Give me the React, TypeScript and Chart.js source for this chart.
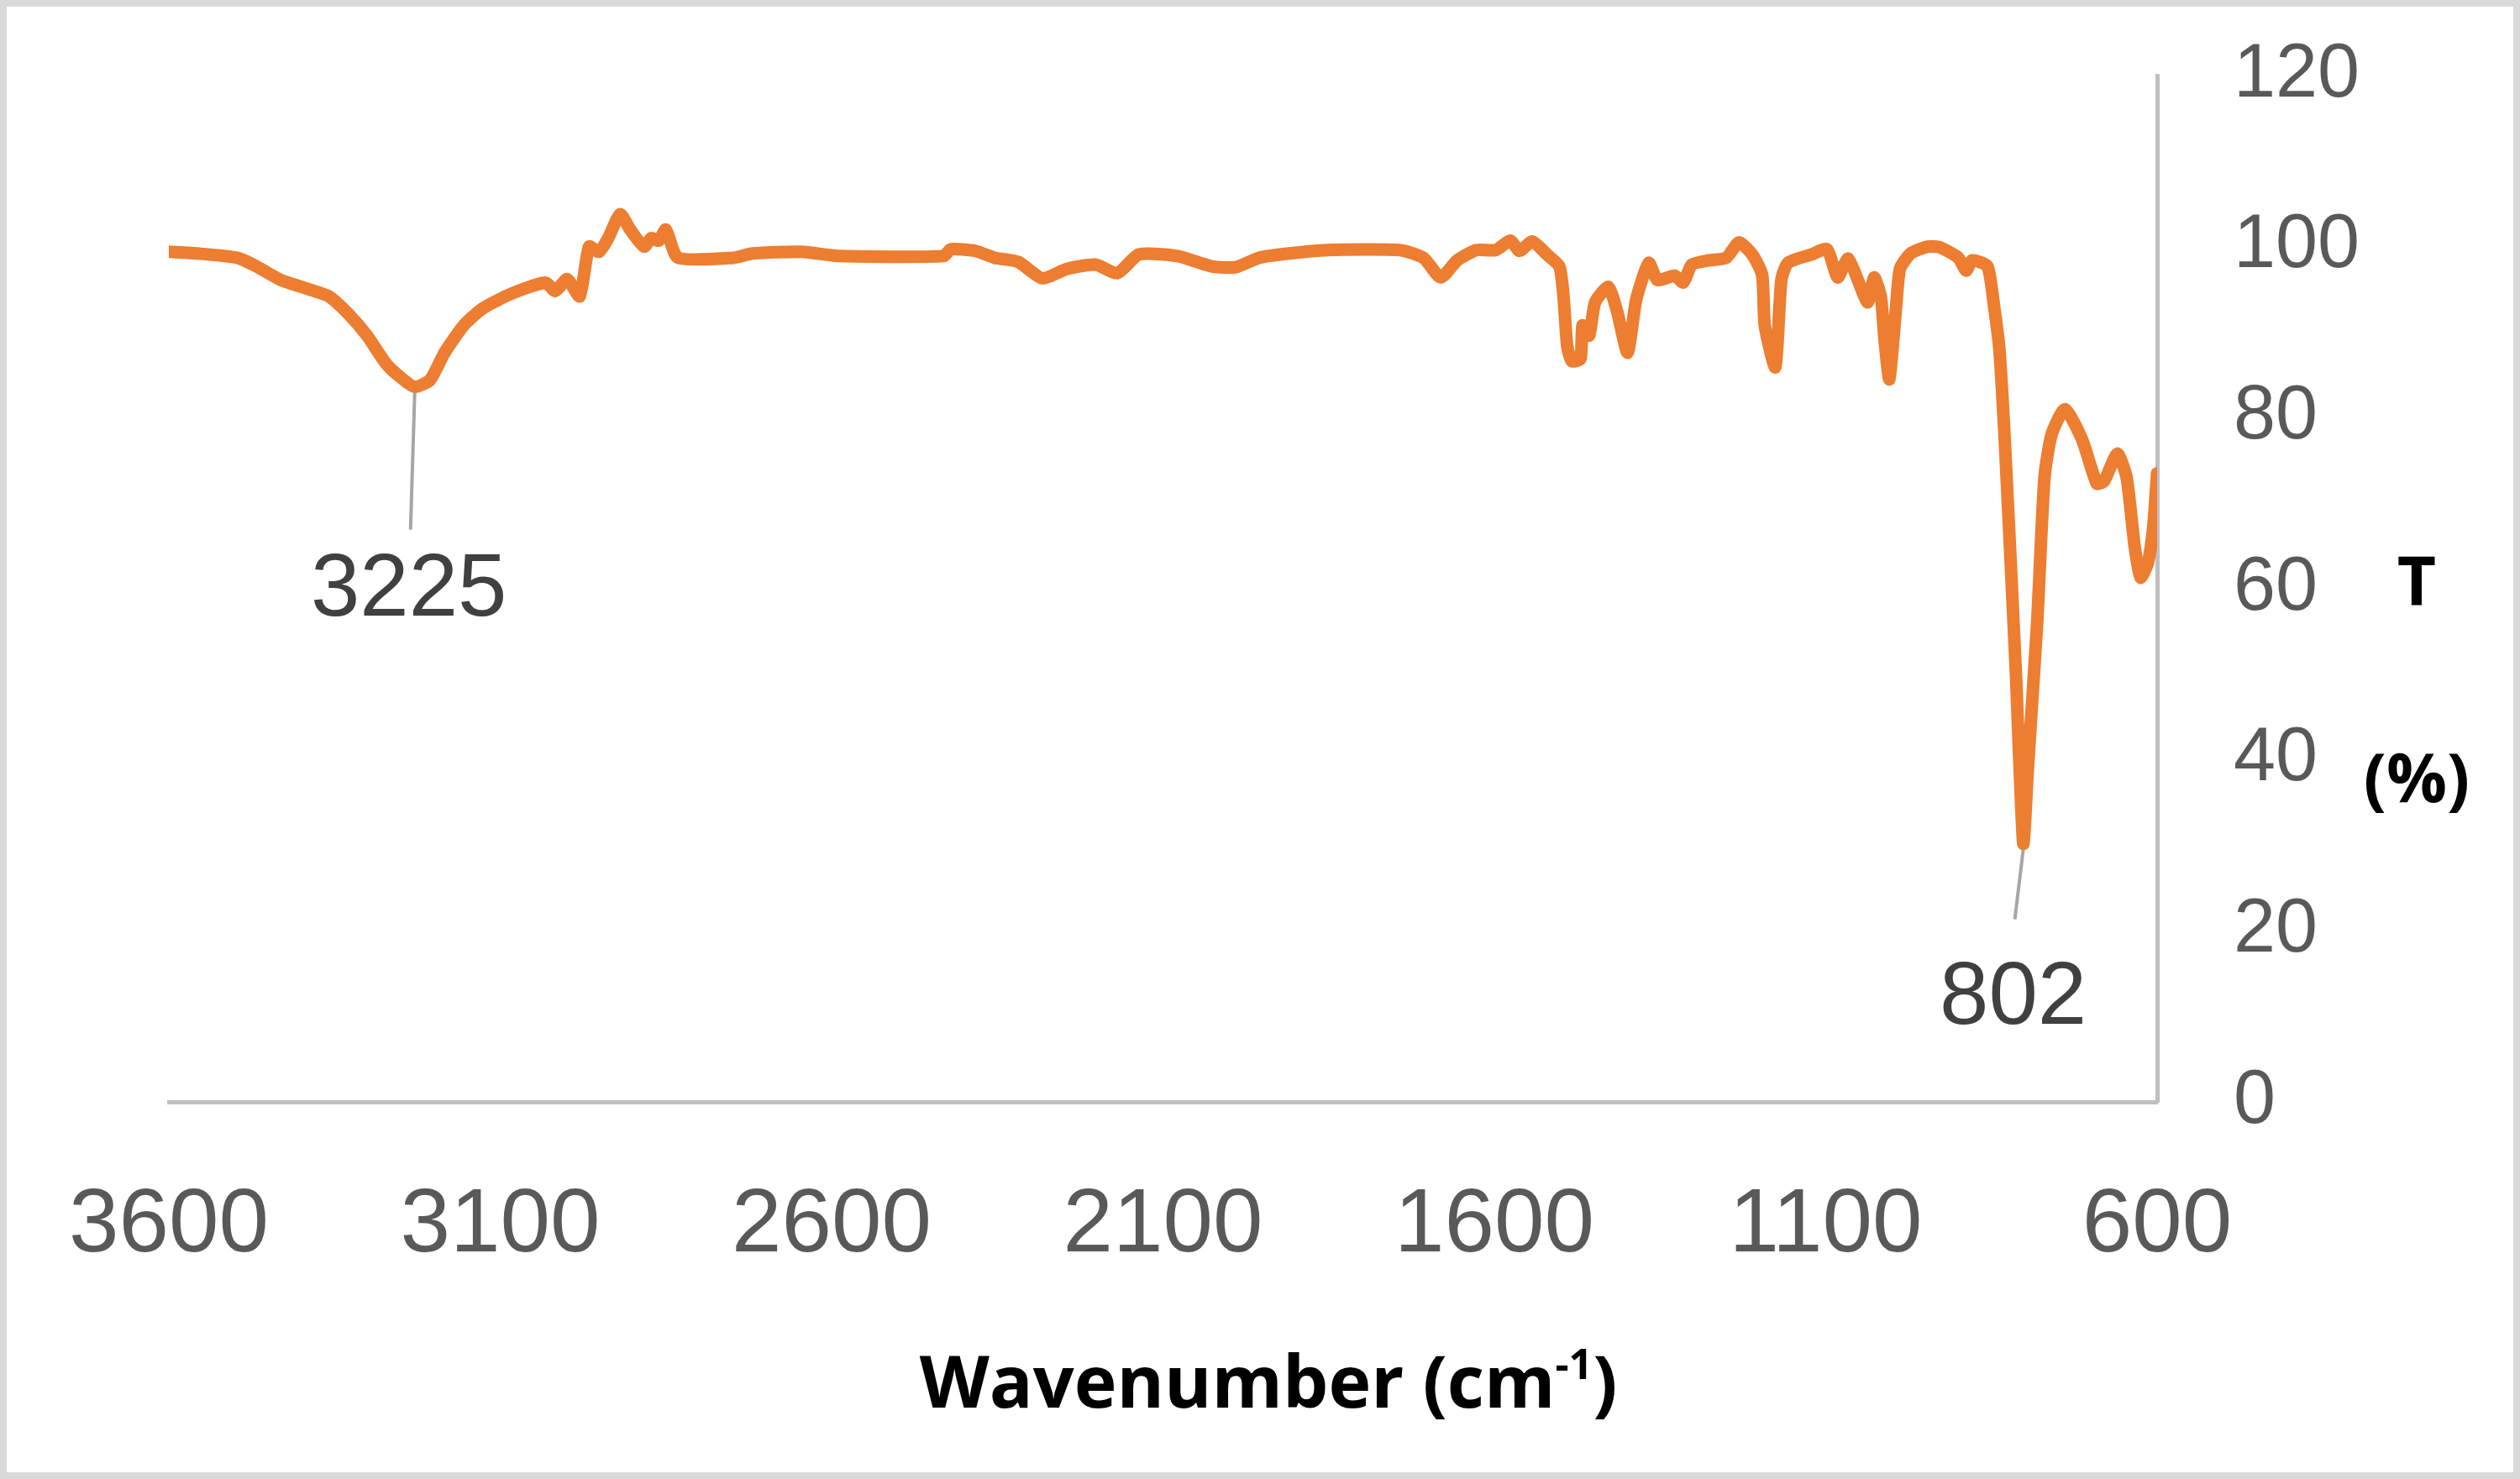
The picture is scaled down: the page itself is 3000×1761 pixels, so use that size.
import React, { useEffect, useRef } from "react";
import Chart from "chart.js/auto";

// FTIR spectrum, wavenumber (cm-1) vs transmittance (%)
const wavenumbers = [
  3600, 3556, 3497, 3468, 3431, 3388, 3359, 3330, 3301, 3272, 3250, 3229, 3206, 3184, 3155, 3126,
  3083, 3032, 3017, 2999, 2980, 2966, 2951, 2937, 2919, 2904, 2883, 2872, 2861, 2850, 2832, 2748,
  2719, 2646, 2587, 2431, 2420, 2383, 2354, 2318, 2282, 2245, 2202, 2169, 2136, 2078, 2027, 1990,
  1955, 1910, 1852, 1743, 1707, 1681, 1656, 1627, 1598, 1576, 1562, 1543, 1521, 1502, 1496, 1490,
  1483, 1470, 1467, 1457, 1448, 1428, 1415, 1399, 1386, 1367, 1354, 1328, 1315, 1302, 1276, 1250,
  1231, 1211, 1196, 1192, 1176, 1167, 1157, 1121, 1098, 1082, 1066, 1037, 1027, 1017, 1011, 1004,
  994, 988, 972, 946, 927, 900, 888, 879, 856, 846, 838, 829, 813, 802, 795, 781, 770, 759, 739,
  713, 691, 680, 660, 646, 634, 625, 614, 606, 600,
];
const transmittance = [
  99.4, 99.2, 98.7, 97.7, 96.1, 95.0, 94.2, 92.2, 89.6, 86.3, 84.7, 83.6, 84.4, 87.6, 90.8, 92.8,
  94.5, 95.8, 94.8, 96.2, 94.2, 100, 99.4, 101, 103.8, 102, 100, 101, 100.7, 102, 98.7, 98.7,
  99.2, 99.4, 98.9, 98.9, 99.7, 99.5, 98.7, 98.2, 96.3, 97.4, 97.9, 96.9, 99.1, 98.9, 97.7, 97.6,
  98.7, 99.2, 99.6, 99.6, 98.7, 96.4, 98.4, 99.6, 99.6, 100.7, 99.5, 100.6, 99.1, 97.7, 94.5, 88.3,
  86.6, 86.9, 90.8, 89.6, 93.5, 95.3, 92.5, 87.6, 93.8, 98.1, 96.1, 96.6, 95.8, 97.9, 98.4, 98.7,
  100.5, 99.1, 96.7, 90.8, 85.9, 96.1, 98.1, 99.1, 99.7, 96.4, 98.6, 93.5, 96.4, 94.2, 88.9, 84.5,
  92.8, 97.4, 99.2, 100, 99.9, 98.7, 97.2, 98.4, 97.7, 93, 88, 76, 50, 30.2, 39, 56, 73, 78.1, 81,
  77.4, 72.3, 72.6, 75.8, 73, 65, 61.3, 63, 67.1, 73.5,
];
const xTicks = [600, 1100, 1600, 2100, 2600, 3100, 3600];
const yTicks = [0, 20, 40, 60, 80, 100, 120];
const peakWavenumbers = [3229, 802];
const peakLabels = ["3225", "802"];

// leader line / label placement relative to the peak point
const peakLayout = [
  { lineLen: 170, lineDx: -5, textDy: 243, textDx: -7 },
  { lineLen: 90, lineDx: -10, textDy: 186, textDx: -12 },
];

const overlayPlugin = {
  id: "overlay",
  afterDraw(chart: any) {
    const ctx = chart.ctx;
    const meta = chart.getDatasetMeta(0);
    ctx.save();

    // peak annotations
    peakWavenumbers.forEach((wn, k) => {
      const idx = wavenumbers.indexOf(wn);
      const pt = meta.data[idx];
      const lay = peakLayout[k];
      ctx.strokeStyle = "#a6a6a6";
      ctx.lineWidth = 4;
      ctx.beginPath();
      ctx.moveTo(pt.x, pt.y + 7);
      ctx.lineTo(pt.x + lay.lineDx, pt.y + lay.lineLen);
      ctx.stroke();
      ctx.fillStyle = "#404040";
      ctx.font = "105px 'Liberation Sans'";
      ctx.textAlign = "center";
      ctx.textBaseline = "middle";
      ctx.fillText(peakLabels[k], pt.x + lay.textDx, pt.y + lay.textDy);
    });

    // right axis title "T (%)"
    ctx.fillStyle = "#000000";
    ctx.font = "bold 80px 'Open Sans'";
    ctx.textAlign = "center";
    ctx.textBaseline = "middle";
    ctx.fillText("T", 2877, 698);
    ctx.fillText("(%)", 2877, 932);

    // x axis title with superscript
    const main = "Wavenumber (cm";
    const sup = "-1";
    const close = ")";
    ctx.textBaseline = "alphabetic";
    ctx.textAlign = "left";
    ctx.font = "bold 86px 'Open Sans'";
    const wMain = ctx.measureText(main).width;
    const wClose = ctx.measureText(close).width;
    ctx.font = "bold 50px 'Open Sans'";
    const wSup = ctx.measureText(sup).width;
    let x0 = 1510 - (wMain + wSup + wClose) / 2;
    const base = 1676;
    ctx.font = "bold 86px 'Open Sans'";
    ctx.fillText(main, x0, base);
    x0 += wMain;
    ctx.font = "bold 50px 'Open Sans'";
    ctx.fillText(sup, x0, base - 34);
    x0 += wSup;
    ctx.font = "bold 86px 'Open Sans'";
    ctx.fillText(close, x0, base);

    // outer frame
    ctx.strokeStyle = "#d9d9d9";
    ctx.lineWidth = 8;
    ctx.strokeRect(4, 4, chart.width - 8, chart.height - 8);
    ctx.restore();
  },
};

export default function App() {
  const canvasRef = useRef<HTMLCanvasElement>(null);

  useEffect(() => {
    document.body.style.margin = "0";
    const chart = new Chart(canvasRef.current!, {
      type: "line",
      data: {
        datasets: [
          {
            data: wavenumbers.map((x, i) => ({ x, y: transmittance[i] })),
            borderColor: "#ED7D31",
            borderWidth: 15,
            pointRadius: 0,
            tension: 0.2,
            borderJoinStyle: "round",
            borderCapStyle: "round",
          },
        ],
      },
      options: {
        animation: false,
        responsive: true,
        maintainAspectRatio: false,
        devicePixelRatio: 1,
        layout: { padding: { left: 201, top: 90, right: 0, bottom: 0 } },
        plugins: { legend: { display: false }, tooltip: { enabled: false } },
        scales: {
          x: {
            type: "linear",
            reverse: true,
            min: 600,
            max: 3600,
            grid: { display: false, drawTicks: false },
            border: { display: true, color: "#bfbfbf", width: 5 },
            ticks: {
              font: { family: "Liberation Sans", size: 107 },
              color: "#595959",
              padding: 84,
              maxRotation: 0,
              autoSkip: false,
              callback: (v: any) => String(v),
            },
            afterBuildTicks: (s: any) => {
              s.ticks = xTicks.map((v) => ({ value: v }));
            },
            afterFit: (s: any) => {
              s.height = 449;
            },
          },
          y: {
            position: "right",
            min: 0,
            max: 120,
            grid: { display: false, drawTicks: false },
            border: { display: true, color: "#bfbfbf", width: 5 },
            ticks: {
              font: { family: "Liberation Sans", size: 90 },
              color: "#595959",
              padding: 91,
              callback: (v: any) => String(v),
            },
            afterBuildTicks: (s: any) => {
              s.ticks = yTicks.map((v) => ({ value: v }));
            },
            afterFit: (s: any) => {
              s.width = 432;
              s.paddingTop = 0;
              s.paddingBottom = 0;
            },
          },
        },
      },
      plugins: [overlayPlugin],
    });
    return () => chart.destroy();
  }, []);

  return (
    <div style={{ width: 3000, height: 1761, position: "relative", background: "#ffffff" }}>
      <canvas ref={canvasRef} />
    </div>
  );
}
